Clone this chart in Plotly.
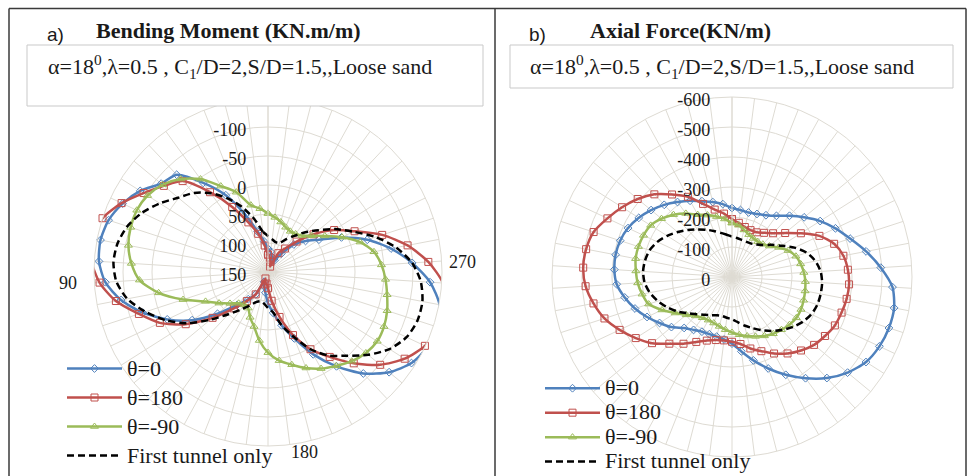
import plotly.graph_objects as go

W, H = 968, 476


def px(x):
    return x / W


def py(y):
    return 1 - y / H


# 50 measuring stations around the lining, 7.2 degrees apart
THETA = [i * 7.2 for i in range(50)]

# Bending moment (KN.m/m)
bm_theta0 = [110, 97, 78, 44, -1, -40, -80, -89, -111, -127,
             -139, -144, -142, -131, -108, -77, -42, -5, 37, 72,
             92, 106, 132, 124, 114, 96, 79, 55, 27, -12,
             -51, -90, -121, -143, -154, -156, -151, -130, -99, -66,
             -30, 10, 46, 66, 85, 111, 127, 128, 123, 115]
bm_theta180 = [120, 104, 82, 58, 22, -20, -65, -83, -104, -129,
               -150, -157, -155, -141, -117, -84, -56, -18, 26, 64,
               88, 106, 138, 128, 130, 122, 100, 70, 33, -2,
               -31, -66, -101, -129, -149, -158, -160, -152, -127, -95,
               -57, -15, 15, 48, 78, 100, 113, 140, 132, 125]
bm_theta_m90 = [49, 40, 31, 2, -19, -48, -70, -86, -96, -100,
                -99, -95, -86, -72, -42, -4, 31, 50, 65, 76,
                80, 79, 66, 53, 31, 11, -4, -15, -28, -40,
                -50, -61, -69, -73, -71, -66, -59, -53, -46, -36,
                -17, 9, 34, 52, 64, 69, 70, 67, 61, 55]
bm_first = [88, 80, 56, 30, 5, -18, -37, -51, -71, -90,
            -105, -114, -117, -112, -97, -72, -45, -15, 21, 50,
            70, 84, 94, 98, 95, 88, 80, 55, 30, -2,
            -28, -48, -74, -98, -114, -121, -121, -114, -99, -75,
            -45, -13, 12, 37, 56, 73, 86, 96, 97, 93]

# Axial force (KN/m)
af_theta0 = [-230, -245, -258, -272, -290, -309, -330, -350, -368, -383,
             -392, -395, -393, -385, -364, -340, -313, -286, -262, -233,
             -218, -208, -205, -205, -210, -222, -250, -287, -328, -372,
             -417, -462, -500, -529, -543, -550, -550, -536, -497, -455,
             -414, -381, -348, -312, -280, -252, -235, -226, -222, -225]
af_theta180 = [-193, -213, -232, -262, -305, -340, -378, -408, -434, -459,
               -485, -495, -497, -489, -470, -447, -414, -380, -346, -305,
               -275, -247, -228, -217, -213, -216, -225, -246, -266, -291,
               -315, -336, -355, -367, -379, -384, -389, -391, -387, -378,
               -358, -322, -272, -230, -200, -182, -170, -168, -172, -182]
af_theta_m90 = [-180, -195, -208, -222, -237, -262, -285, -305, -321, -326,
                -328, -327, -321, -315, -305, -292, -258, -224, -198, -178,
                -168, -164, -165, -170, -177, -185, -194, -203, -213, -224,
                -234, -241, -249, -254, -254, -251, -248, -245, -240, -233,
                -224, -207, -184, -162, -150, -146, -147, -152, -162, -174]
af_first = [-135, -142, -152, -165, -180, -196, -215, -235, -256, -275,
            -289, -295, -297, -292, -279, -260, -238, -215, -190, -170,
            -156, -145, -137, -134, -137, -141, -152, -167, -183, -202,
            -222, -242, -262, -279, -292, -299, -301, -301, -296, -283,
            -262, -230, -195, -168, -146, -134, -128, -127, -128, -131]

SERIES_NAMES = ["θ=0", "θ=180", "θ=-90", "First tunnel only"]
BM_SERIES = [bm_theta0, bm_theta180, bm_theta_m90, bm_first]
AF_SERIES = [af_theta0, af_theta180, af_theta_m90, af_first]

BM_TICKS = [150, 100, 50, 0, -50, -100]
BM_TICKTEXT = ["150", "100", "50", "0", "-50", "-100"]
AF_TICKS = [0, -100, -200, -300, -400, -500, -600]
AF_TICKTEXT = ["0", "-100", "-200", "-300", "-400", "-500", "-600"]

COLORS = ["#4F81BD", "#C0504D", "#9BBB59", "#000000"]
SYMBOLS = ["diamond-open", "square-open", "triangle-up-open", "circle"]
MSIZE = [6, 7, 7, 0]

SERIF = "Liberation Serif"
GRID = "#dedbd3"
TXT = "#1a1a1a"
LEGEND_TEXT_PX = 22


def closed(vals):
    return list(vals) + [vals[0]]


THETA_C = THETA + [360.0]

fig = go.Figure()

for subplot, legend, series in (("polar", "legend", BM_SERIES),
                                 ("polar2", "legend2", AF_SERIES)):
    for k, vals in enumerate(series):
        dashed = k == 3
        fig.add_trace(go.Scatterpolar(
            r=closed(vals), theta=THETA_C,
            name=f'<span style="font-size:{LEGEND_TEXT_PX}px">{SERIES_NAMES[k]}</span>',
            subplot=subplot, legend=legend,
            mode="lines" if dashed else "lines+markers",
            cliponaxis=False,
            line=dict(color=COLORS[k], width=2.5, shape="spline", smoothing=0.7,
                      dash="7px,4px" if dashed else "solid"),
            marker=dict(symbol=SYMBOLS[k], size=MSIZE[k], color=COLORS[k],
                        line=dict(width=1, color=COLORS[k])),
        ))


def polar_layout(cx, cy, rad, rng, tickvals, ticktext):
    return dict(
        domain=dict(x=[px(cx - rad), px(cx + rad)], y=[py(cy + rad), py(cy - rad)]),
        bgcolor="rgba(0,0,0,0)",
        angularaxis=dict(rotation=90, direction="counterclockwise",
                         tickmode="array", tickvals=THETA, showticklabels=False,
                         ticks="", gridcolor=GRID, gridwidth=1,
                         linecolor=GRID, linewidth=1, showline=True),
        radialaxis=dict(range=rng, angle=90, side="counterclockwise",
                        tickmode="array", tickvals=tickvals, ticktext=ticktext,
                        ticks="outside", ticklen=5, tickcolor="rgba(0,0,0,0)",
                        showline=True, linecolor=GRID, gridcolor=GRID,
                        tickfont=dict(family=SERIF, size=18, color=TXT),
                        layer="above traces"),
    )


fig.update_layout(
    width=W, height=H,
    margin=dict(l=0, r=0, t=0, b=0, autoexpand=False),
    paper_bgcolor="white", plot_bgcolor="white",
    polar=polar_layout(268, 272, 174, [150, -150], BM_TICKS, BM_TICKTEXT),
    polar2=polar_layout(732, 277, 180, [0, -600], AF_TICKS, AF_TICKTEXT),
    # legend row pitch follows the legend font size; the entry text itself is 22px
    legend=dict(x=px(62), y=py(349), xanchor="left", yanchor="top",
                font=dict(family=SERIF, size=20, color=TXT),
                bgcolor="rgba(0,0,0,0)", itemwidth=55, tracegroupgap=0),
    legend2=dict(x=px(540), y=py(371), xanchor="left", yanchor="top",
                 font=dict(family=SERIF, size=16.5, color=TXT),
                 bgcolor="rgba(0,0,0,0)", itemwidth=55, tracegroupgap=0),
)

FRAME = "#3a3a3a"
BOX = "#c9c9c9"
shapes = [
    dict(type="line", x0=px(9), x1=px(966), y0=py(8.5), y1=py(8.5)),
    dict(type="line", x0=px(9), x1=px(9), y0=py(8.5), y1=0),
    dict(type="line", x0=px(966), x1=px(966), y0=py(8.5), y1=0),
    dict(type="line", x0=px(495), x1=px(495), y0=py(8.5), y1=0),
]
for s in shapes:
    s.update(xref="paper", yref="paper", line=dict(color=FRAME, width=1.5), layer="above")
for x0, x1, y0, y1 in ((27, 483, 45, 106), (510, 953, 45, 88)):
    shapes.append(dict(type="rect", xref="paper", yref="paper",
                       x0=px(x0), x1=px(x1), y0=py(y1), y1=py(y0),
                       fillcolor="white", line=dict(color=BOX, width=1), layer="above"))
fig.update_layout(shapes=shapes)

PARAMS = "α=18<sup>0</sup>,λ=0.5 , C<sub>1</sub>/D=2,S/D=1.5,,Loose sand"


def note(text, x, y, size, family=SERIF, xanchor="center"):
    return dict(text=text, x=px(x), y=py(y), xref="paper", yref="paper",
                xanchor=xanchor, yanchor="middle", showarrow=False,
                font=dict(family=family, size=size, color=TXT))


fig.update_layout(annotations=[
    note("a)", 45, 35, 19, "Liberation Sans", "left"),
    note("<b>Bending Moment (KN.m/m)</b>", 228, 31, 22),
    note(PARAMS, 240, 67, 22),
    note("b)", 527, 35, 19, "Liberation Sans", "left"),
    note("<b>Axial Force(KN/m)</b>", 680, 31, 22),
    note(PARAMS, 722, 67, 22),
    note("90", 68, 283, 18),
    note("180", 304, 452, 18),
    note("270", 462, 262, 18),
])

fig.write_html("out.html")
